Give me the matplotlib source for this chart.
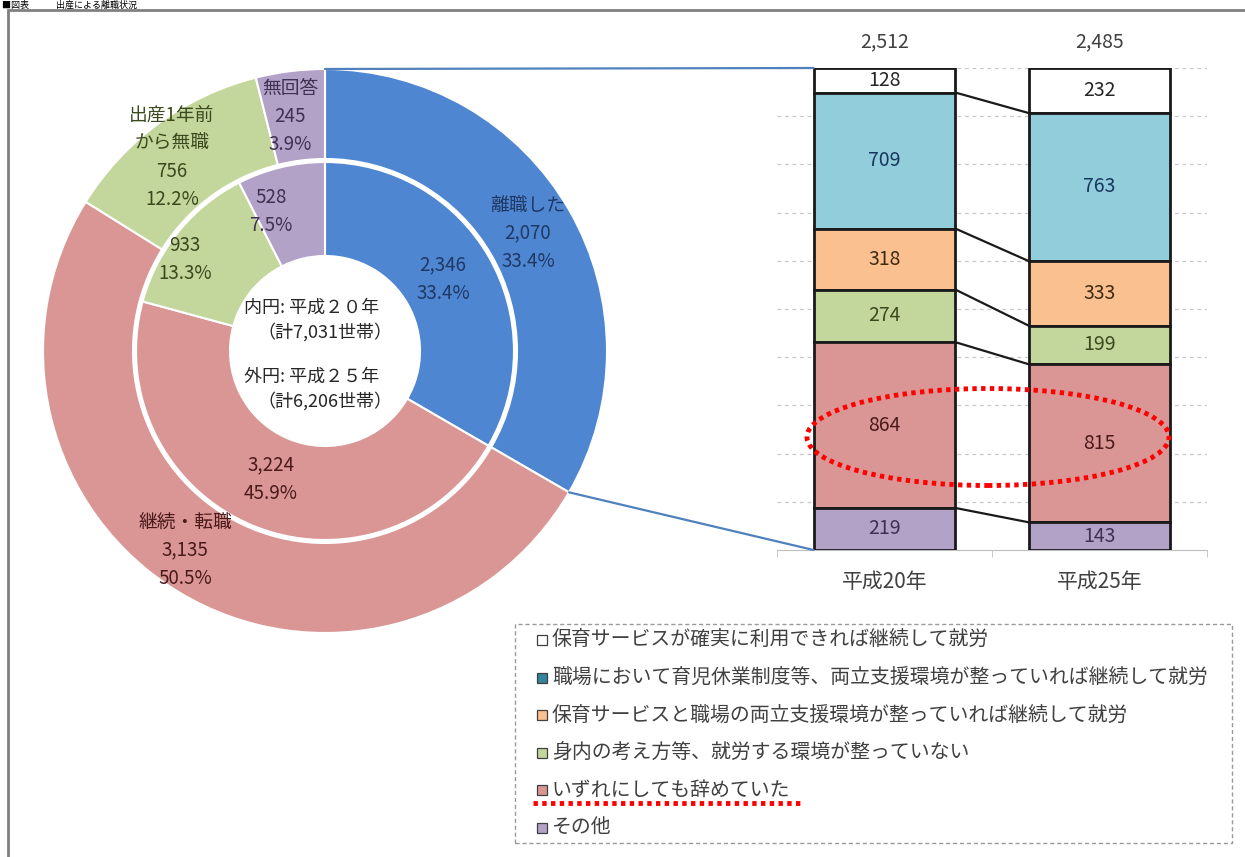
import matplotlib
matplotlib.use("Agg")
import matplotlib.pyplot as plt
from matplotlib.patches import Rectangle, Ellipse, ConnectionPatch
import numpy as np

plt.rcParams['font.family'] = ['Noto Sans CJK JP', 'DejaVu Sans']

# ---------------- data ----------------
pie_names = ['離職した', '継続・転職', '出産1年前\nから無職', '無回答']
outer_vals = [2070, 3135, 756, 245]      # 平成25年
inner_vals = [2346, 3224, 933, 528]      # 平成20年
pie_colors = ['#4F86D1', '#D99694', '#C3D69B', '#B3A2C7']
pie_text_colors = ['#1F3864', '#4A1A1A', '#3B4A1E', '#3F3151']

bar_cats = ['平成20年', '平成25年']
bar_series = ['保育サービスが確実に利用できれば継続して就労',
              '職場において育児休業制度等、両立支援環境が整っていれば継続して就労',
              '保育サービスと職場の両立支援環境が整っていれば継続して就労',
              '身内の考え方等、就労する環境が整っていない',
              'いずれにしても辞めていた',
              'その他']
bar_vals = {  # top to bottom order as in legend
    '平成20年': [128, 709, 318, 274, 864, 219],
    '平成25年': [232, 763, 333, 199, 815, 143],
}
bar_colors = ['#FFFFFF', '#92CDDC', '#FAC090', '#C3D69B', '#D99694', '#B3A2C7']
bar_text_colors = ['#262626', '#17375E', '#3F2A10', '#3B4A1E', '#4A1A1A', '#3F3151']
legend_marker_colors = ['#FFFFFF', '#31849B', '#FAC090', '#C3D69B', '#D99694', '#B3A2C7']

W, H = 1245, 857
def Y(y):
    return H - y

fig = plt.figure(figsize=(W / 100, H / 100), dpi=100)

# ---------------- bar chart (100% stacked) ----------------
bax = fig.add_axes([777 / W, (H - 550) / H, 430 / W, 482 / H])
bw = 0.66
xs = np.arange(len(bar_cats))
cum_tops = []
for i, cat in enumerate(bar_cats):
    vals = np.array(bar_vals[cat], dtype=float)
    tot = vals.sum()
    pct = vals / tot * 100
    top = 100.0
    tops = []
    for j, (v, p) in enumerate(zip(vals, pct)):
        bottom = top - p
        bax.bar(xs[i], p, bottom=bottom, width=bw, color=bar_colors[j],
                edgecolor='#1A1A1A', linewidth=2, zorder=3)
        bax.text(xs[i], bottom + p / 2, f'{int(v):,}', ha='center', va='center',
                 fontsize=14, color=bar_text_colors[j], zorder=5)
        tops.append(bottom)
        top = bottom
    cum_tops.append(tops[:-1])
    bax.text(xs[i], 105.4, f'{int(tot):,}', ha='center', va='center',
             fontsize=14, color='#404040', clip_on=False)

for k in range(len(cum_tops[0])):
    bax.plot([xs[0] + bw / 2, xs[1] - bw / 2], [cum_tops[0][k], cum_tops[1][k]],
             color='#1A1A1A', linewidth=1.6, zorder=2)

bax.set_xlim(-0.5, 1.5)
bax.set_ylim(0, 100)
bax.set_yticks(np.arange(10, 101, 10))
bax.yaxis.grid(True, color='#C8C8C8', linestyle=(0, (3, 3)), linewidth=0.9)
bax.set_axisbelow(True)
bax.tick_params(axis='y', length=0, labelleft=False)
bax.set_xticks(xs)
bax.set_xticklabels(bar_cats, fontsize=15, color='#404040')
bax.tick_params(axis='x', which='major', length=0, pad=15)
bax.set_xticks([-0.5, 0.5, 1.5], minor=True)
bax.tick_params(axis='x', which='minor', length=5, color='#BFBFBF', direction='out')
for s in ['top', 'left', 'right']:
    bax.spines[s].set_visible(False)
bax.spines['bottom'].set_color('#BFBFBF')
bax.patch.set_alpha(0)

# ---------------- overlay (pie, legend, annotations) ----------------
ax = fig.add_axes([0, 0, 1, 1])
cx, cy = 325, Y(351)
R_out, R_in, R_hole = 282, 189, 95

ax.pie(outer_vals, radius=R_out, center=(cx, cy), startangle=90, counterclock=False,
       colors=pie_colors, wedgeprops=dict(width=R_out - 192, edgecolor='white', linewidth=1.5))
ax.pie(inner_vals, radius=R_in, center=(cx, cy), startangle=90, counterclock=False,
       colors=pie_colors, wedgeprops=dict(width=R_in - R_hole, edgecolor='white', linewidth=1.5))
ax.set_xlim(0, W)
ax.set_ylim(0, H)
ax.set_aspect('auto')
ax.axis('off')

def lines(x, y0, step, texts, color, size=13.5):
    for n, t in enumerate(texts):
        ax.text(x, Y(y0 + n * step), t, ha='center', va='center', fontsize=size, color=color)

tot_out = sum(outer_vals)
tot_in = sum(inner_vals)
outer_pos = [(528, 205), (185, 522), (172, 115), (290, 88)]
inner_pos = [(443, 265), (271, 465), (185, 245), (271, 197)]
for k in range(4):
    txt = pie_names[k].split('\n') + [f'{outer_vals[k]:,}', f'{outer_vals[k] / tot_out * 100:.1f}%']
    lines(outer_pos[k][0], outer_pos[k][1], 28, txt, pie_text_colors[k])
    txt = [f'{inner_vals[k]:,}', f'{inner_vals[k] / tot_in * 100:.1f}%']
    lines(inner_pos[k][0], inner_pos[k][1], 28, txt, pie_text_colors[k])

ctr_color = '#262626'
ax.text(312, Y(308), '内円: 平成２０年', ha='center', va='center', fontsize=13, color=ctr_color)
ax.text(325, Y(332), '（計7,031世帯）', ha='center', va='center', fontsize=13, color=ctr_color)
ax.text(312, Y(377), '外円: 平成２５年', ha='center', va='center', fontsize=13, color=ctr_color)
ax.text(325, Y(401), '（計6,206世帯）', ha='center', va='center', fontsize=13, color=ctr_color)

# zoom lines from the 離職した wedge to the bar
ang_end = np.deg2rad(90 - 360 * outer_vals[0] / tot_out)
p_top = (cx, cy + R_out)
p_bot = (cx + R_out * np.cos(ang_end), cy + R_out * np.sin(ang_end))
for pa, yb in [(p_top, 100), (p_bot, 0)]:
    con = ConnectionPatch(xyA=pa, coordsA=ax.transData, xyB=(xs[0] - bw / 2, yb),
                          coordsB=bax.transData, color='#4F81BD', linewidth=1.6)
    fig.add_artist(con)

# red dotted ellipse highlighting いずれにしても辞めていた
ax.add_patch(Ellipse((988, Y(437)), 362, 97, fill=False, edgecolor='#FF0000',
                     linewidth=3.5, linestyle=(0, (0.9, 0.9))))

# legend box
ax.add_patch(Rectangle((515, Y(843)), 717, 219, fill=False, edgecolor='#9A9A9A',
                       linewidth=1, linestyle=(0, (3, 2))))
for i, name in enumerate(bar_series):
    yy = Y(640 + i * 37.6)
    ax.add_patch(Rectangle((537, yy - 5), 10, 10, facecolor=legend_marker_colors[i],
                           edgecolor='#404040', linewidth=0.9))
    ax.text(552, yy, name, ha='left', va='center', fontsize=14.3, color='#404040')
ax.plot([533, 800], [Y(803), Y(803)], color='#FF0000', linewidth=3.5,
        linestyle=(0, (0.9, 0.9)))

# outer frame and title
ax.add_patch(Rectangle((8, -20), 1300, Y(10) + 20, fill=False, edgecolor='#808080',
                       linewidth=2, clip_on=True))
ax.text(2, H - 0.5, '■図表　　　出産による離職状況', ha='left', va='top',
        fontsize=6.5, color='#000000')

fig.savefig('out.png', dpi=100)
